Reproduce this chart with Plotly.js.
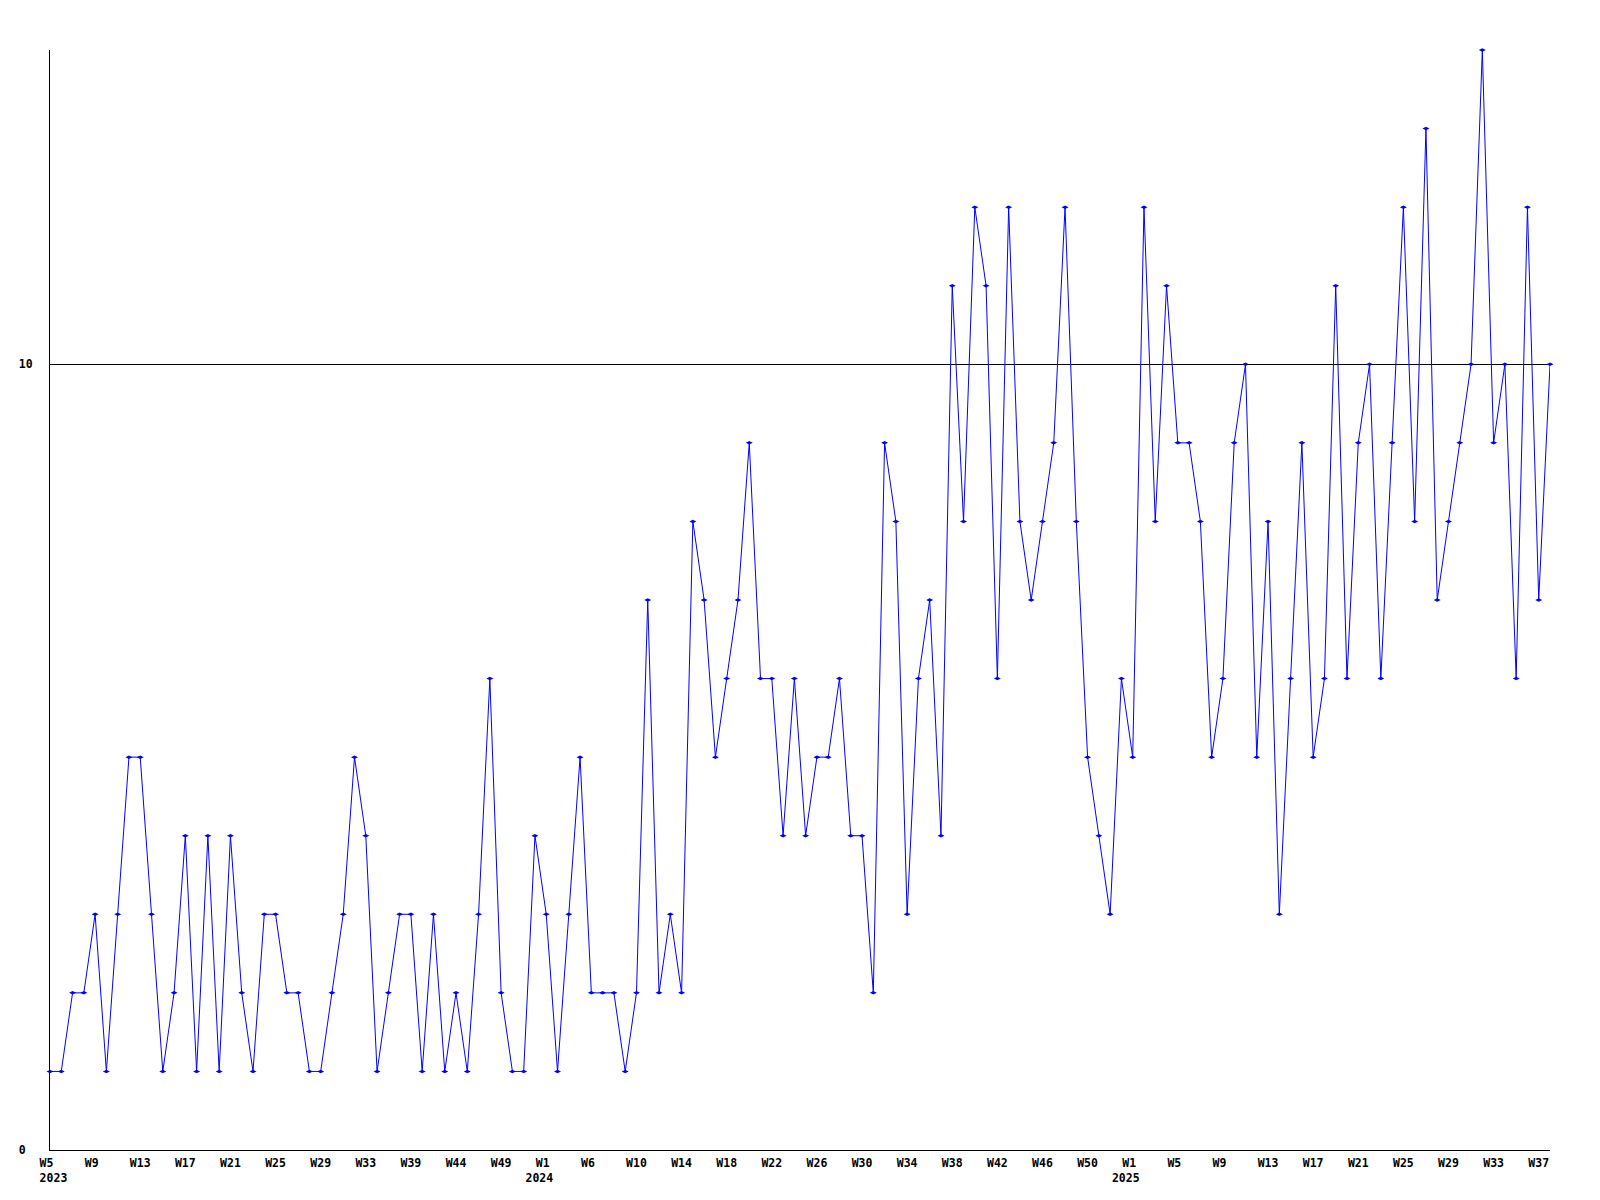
<!DOCTYPE html>
<html>
<head>
<meta charset="utf-8">
<script src="https://cdn.plot.ly/plotly-3.0.1.min.js"></script>
<style>
  html, body { margin: 0; padding: 0; background: #ffffff; }
  #chart { width: 1600px; height: 1200px; }
</style>
</head>
<body>
<div id="chart"></div>
<script>
// Weekly counts, one value per data point (left to right)
const weeklyCounts = [
  1,1,2,2,3,1,3,5,5,3,1,2,4,1,4,1,4,
  2,1,3,3,2,2,1,1,2,3,5,4,1,2,3,3,
  1,3,1,2,1,3,6,2,1,1,4,3,1,3,5,2,2,
  2,1,2,7,2,3,2,8,7,5,6,7,9,6,6,4,6,
  4,5,5,6,4,4,2,9,8,3,6,7,4,11,8,12,11,
  6,12,8,7,8,9,12,8,5,4,3,6,5,12,8,11,9,
  9,8,5,6,9,10,5,8,3,6,9,5,6,11,6,9,10,
  6,9,12,8,13,7,8,9,10,14,9,10,6,12,7,10
];

// Tick labels, one for every fourth data point
const weekLabels = [
  "W5","W9","W13","W17","W21","W25","W29","W33","W39","W44","W49",
  "W1","W6","W10","W14","W18","W22","W26","W30","W34","W38","W42","W46","W50",
  "W1","W5","W9","W13","W17","W21","W25","W29","W33","W37"
];
const yearLabels = [
  "2023","","","","","","","","","","",
  "2024","","","","","","","","","","","","",
  "2025","","","","","","","","",""
];
const yTickValues = [0, 10];
const yTickLabels = ["0", "10"];

const NB = "\u00a0";
const xIndex = weeklyCounts.map((_, i) => i);
const tickStep = 4;
const tickVals = weekLabels.map((_, i) => i * tickStep);
const tickText = weekLabels.map((w, i) => {
  let top = w;
  while (top.length < 3) top += NB;
  const y = yearLabels[i];
  if (!y) return top;
  const yr = (i === 0) ? NB + y : y + NB + NB;
  return top + "<br>" + yr;
});
const yText = yTickLabels.map(t => { let s = t; while (s.length < 2) s += NB; return s; });

const fontMono = { family: "DejaVu Sans Mono, monospace", size: 11.5, color: "#000000", weight: "bold" };

const trace = {
  type: "scatter",
  mode: "lines+markers",
  x: xIndex,
  y: weeklyCounts,
  line: { color: "#0000ff", width: 1 },
  marker: { symbol: "diamond-wide", size: 5, color: "#0000ff", line: { width: 0 } },
  cliponaxis: false,
  hoverinfo: "y"
};

const layout = {
  width: 1600,
  height: 1200,
  margin: { l: 50, r: 50, t: 50, b: 50, pad: 0 },
  paper_bgcolor: "#ffffff",
  plot_bgcolor: "#ffffff",
  showlegend: false,
  font: fontMono,
  xaxis: {
    range: [0, weeklyCounts.length - 1],
    showgrid: false,
    zeroline: false,
    showline: true,
    linecolor: "#000000",
    linewidth: 1,
    ticks: "",
    tickmode: "array",
    tickvals: tickVals,
    ticktext: tickText,
    tickangle: 0,
    tickfont: fontMono,
    ticklabelstandoff: 2,
    fixedrange: true
  },
  yaxis: {
    range: [0, 14],
    showgrid: true,
    gridcolor: "#000000",
    gridwidth: 1,
    zeroline: false,
    showline: true,
    linecolor: "#000000",
    linewidth: 1,
    ticks: "",
    tickmode: "array",
    tickvals: yTickValues,
    ticktext: yText,
    tickfont: fontMono,
    ticklabelstandoff: 14,
    fixedrange: true
  }
};

Plotly.newPlot("chart", [trace], layout, { staticPlot: true, displayModeBar: false });
</script>
</body>
</html>
